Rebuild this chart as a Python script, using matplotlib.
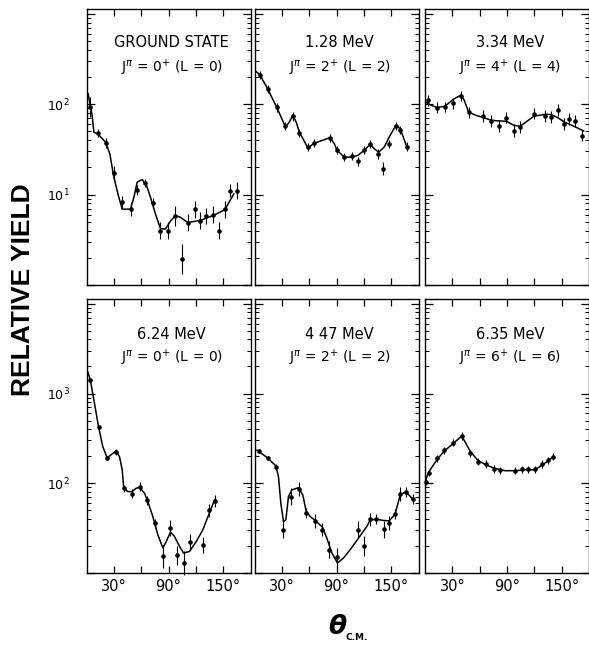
import numpy as np
import matplotlib
matplotlib.use('Agg')
import matplotlib.pyplot as plt
from matplotlib.ticker import LogLocator, NullFormatter, FixedLocator, FixedFormatter

# ---------------- data (angles in degrees, c.m.; relative yield) ----------------
# Ground state 0+ (L=0)
gs_theta = [3.3, 12.4, 20.9, 30.0, 39.2, 48.3, 54.9, 64.0, 72.8, 81.2, 89.2, 96.9,
            105.0, 111.2, 118.6, 125.1, 131.7, 138.6, 145.2, 151.8, 158.0, 164.7]
gs_yield = [93, 48, 37, 17.3, 8.2, 6.9, 11.2, 13.4, 8.0, 4.0, 4.0, 5.8,
            1.95, 4.9, 6.9, 5.15, 5.8, 6.0, 4.0, 6.9, 11.1, 11.0]
gs_err = [0.11, 0.044, 0.056, 0.074, 0.074, 0.08, 0.056, 0.044, 0.056, 0.093, 0.093, 0.11,
          0.167, 0.093, 0.093, 0.093, 0.093, 0.093, 0.093, 0.093, 0.074, 0.093]
gs_fit_theta = [1.8, 4.4, 6.2, 8.1, 12.4, 20.9, 25.6, 30.0, 35.5, 39.2, 48.3, 52.0, 55.6,
                61.1, 65.9, 70.3, 75.7, 81.2, 86.7, 92.2, 97.7, 103.2, 111.2, 125.1,
                139.7, 151.8, 161.7]
gs_fit_yield = [131, 93, 75.5, 49, 47, 38, 28.3, 15.6, 9.3, 6.9, 6.9, 9.3, 13.7,
                14.7, 12.6, 9.3, 6.1, 4.2, 4.16, 5.1, 5.9, 5.6, 4.9, 5.2,
                5.9, 6.8, 10.2]

# 1.28 MeV 2+ (L=2)
e128_theta = [6.2, 14.7, 24.5, 34.0, 42.1, 49.3, 58.5, 65.7, 82.9, 90.6, 98.6, 106.7,
              113.3, 120.5, 127.1, 135.2, 140.6, 147.2, 155.2, 159.9, 167.2]
e128_yield = [209, 146, 92, 57, 73.6, 48, 33.6, 37, 42.3, 30.9, 26, 26.5,
              23.4, 30.9, 36.6, 28.3, 19.3, 36.6, 57, 52, 34]
e128_err = [0.045, 0.045, 0.045, 0.045, 0.05, 0.045, 0.045, 0.045, 0.045, 0.045, 0.045, 0.045,
            0.05, 0.045, 0.045, 0.056, 0.074, 0.045, 0.045, 0.045, 0.045]
e128_fit_theta = [0, 6.2, 14.7, 24.5, 34, 38.3, 42, 45.7, 49.3, 58.5, 65.7, 82.9, 87.6,
                  90.6, 98.6, 106.7, 113.3, 120.5, 127.1, 131.4, 136.3, 142.4, 147.9,
                  155.2, 159.9, 167.2]
e128_fit_yield = [239, 210, 146, 92, 56, 63.5, 75.5, 63.5, 49, 33, 37, 42.7, 36.6,
                  30.8, 26, 26, 27.1, 30.8, 36, 32.2, 29.5, 33.6, 43.4,
                  58.4, 53.7, 33.6]

# 3.34 MeV 4+ (L=4)
e334_theta = [3.0, 13.1, 21.9, 30.9, 39.3, 47.8, 64.2, 72.9, 81.2, 89.3, 97.6, 104.2,
              119.5, 132.2, 138.5, 145.7, 153.0, 158.5, 165.0, 172.3]
e334_yield = [111, 91, 93, 102, 123, 81, 73.6, 65, 57.4, 71, 51, 56,
              78.7, 74, 72, 86, 60, 69, 65, 45]
e334_err = [0.06, 0.06, 0.06, 0.06, 0.06, 0.06, 0.065, 0.065, 0.07, 0.06, 0.07, 0.065,
            0.065, 0.065, 0.065, 0.065, 0.065, 0.065, 0.065, 0.06]
e334_fit_theta = [0, 6.6, 13.1, 21.9, 30.9, 39.3, 43, 47.8, 55.7, 64.2, 72.9, 81.2, 89.3,
                  97.6, 104.2, 108.5, 119.5, 132.2, 138.5, 145.7, 153, 165, 174.1]
e334_fit_yield = [106, 97.5, 92, 95, 113, 126, 111, 82, 75.5, 71, 66.4, 65.3, 64.7,
                  58.4, 57, 61, 73.6, 77.4, 76.8, 71, 63.5, 56, 50.6]

# 6.24 MeV 0+ (L=0)
e624_theta = [4.1, 13.2, 22.7, 32.6, 40.9, 49.7, 58.2, 66.6, 75.4, 83.8, 91.1, 99.1,
              106.5, 113.8, 128.4, 134.2, 140.5]
e624_yield = [1430, 419, 190, 224, 88, 76, 91.6, 65, 36, 15.3, 32, 15.7,
              12.9, 22, 20.6, 50, 63.5]
e624_err = [0.02, 0.02, 0.02, 0.03, 0.04, 0.05, 0.05, 0.05, 0.05, 0.13, 0.09, 0.11,
            0.13, 0.09, 0.09, 0.07, 0.07]
e624_fit_theta = [1.4, 4.1, 8.8, 13.2, 17.9, 22.7, 28.9, 32.6, 36.2, 39.2, 40.9, 45.3,
                  49.7, 54.6, 58.2, 63.7, 67.3, 72.8, 78.3, 83.8, 87.5, 92.2, 96.6,
                  102.1, 106.5, 113.1, 120.4, 127.7, 140.5]
e624_fit_yield = [1740, 1430, 774, 426, 255, 192, 215, 230, 198, 141, 88, 80.7,
                  80.7, 88, 90, 77.4, 62.5, 42.6, 26.7, 19, 22.4, 28.6, 25.5,
                  19.8, 16.7, 17.4, 22.4, 30.3, 65.2]

# 4.47 MeV 2+ (L=2)
e447_theta = [4.4, 14.3, 23.4, 31.8, 39.8, 48.3, 56.8, 65.9, 74.6, 82.0, 90.3, 113.1,
              120.7, 127.0, 133.6, 141.6, 147.9, 154.4, 159.9, 166.1, 173.8]
e447_yield = [229, 190, 153, 30.3, 71, 86.5, 47, 38, 30.3, 18.2, 14.9, 30.3,
              20, 39.8, 39.8, 30.8, 36, 45.6, 76, 80.7, 66]
e447_err = [0.02, 0.02, 0.03, 0.093, 0.093, 0.074, 0.056, 0.074, 0.074, 0.093, 0.11, 0.093,
            0.11, 0.074, 0.056, 0.093, 0.074, 0.056, 0.074, 0.056, 0.056]
e447_fit_theta = [2.6, 14.3, 23.4, 26.3, 28.9, 31.8, 34.4, 37.3, 41, 48.3, 53, 56.8,
                  61.1, 65.9, 74.6, 79.4, 84.9, 91.1, 97.7, 105, 114.2, 123.3, 127,
                  133.6, 141.6, 147.9, 154.4, 159.9, 166.1, 173.8]
e447_fit_yield = [234, 192, 156, 119, 60, 37.5, 39, 71, 84.3, 89.3, 74, 48.4,
                  42.6, 39, 32.4, 24.5, 16.7, 12.9, 14.7, 18.2, 24.5, 33, 39,
                  39.8, 38.5, 38.1, 45.6, 74, 80.7, 66.4]

# 6.35 MeV 6+ (L=6)
e635_theta = [0.7, 4.4, 13.5, 21.2, 31.1, 40.2, 49.4, 57.7, 67.0, 76.1, 82.3, 98.8,
              106.0, 112.6, 120.7, 128.8, 135.3, 140.8]
e635_yield = [104, 131, 190, 234, 283, 336, 215, 174, 164, 144, 140, 138,
              143, 143, 143, 164, 181, 198]
e635_err = [0.04] * 18
e635_fit_theta = [0, 4.4, 13.5, 21.2, 31.1, 40.2, 43.9, 49.4, 57.7, 67, 76.1, 87.8,
                  98.8, 109.8, 120.7, 128.8, 135.3, 140.8]
e635_fit_yield = [104, 135, 185, 229, 278, 336, 290, 229, 181, 160, 147, 138,
                  138, 141, 141, 160, 178, 198]

titles = ['GROUND STATE', '1.28 MeV', '3.34 MeV', '6.24 MeV', '4 47 MeV', '6.35 MeV']
spins = ['0', '2', '4', '0', '2', '6']
lvals = ['0', '2', '4', '0', '2', '6']

x_ticks = [30, 60, 90, 120, 150]
x_labels = ['30°', '', '90°', '', '150°']

panels = [
    (gs_theta, gs_yield, gs_err, gs_fit_theta, gs_fit_yield),
    (e128_theta, e128_yield, e128_err, e128_fit_theta, e128_fit_yield),
    (e334_theta, e334_yield, e334_err, e334_fit_theta, e334_fit_yield),
    (e624_theta, e624_yield, e624_err, e624_fit_theta, e624_fit_yield),
    (e447_theta, e447_yield, e447_err, e447_fit_theta, e447_fit_yield),
    (e635_theta, e635_yield, e635_err, e635_fit_theta, e635_fit_yield),
]

# ---------------- figure ----------------
W, H = 589, 645
fig = plt.figure(figsize=(W / 100, H / 100), dpi=100)
fig.patch.set_facecolor('white')

col_left = [86.5, 254.5, 425.0]
col_w = 164.0
row_top = [9.0, 299.0]
row_h = [276.0, 274.0]
row_ylim = [(1.0, 1130.0), (10.0, 11300.0)]
row_major = [[1, 10, 100, 1000], [10, 100, 1000, 10000]]
row_labels = [['', r'$10^{1}$', r'$10^{2}$', ''], ['', r'$10^{2}$', r'$10^{3}$', '']]

for i, (th, yv, er, fth, fy) in enumerate(panels):
    r, c = divmod(i, 3)
    ax = fig.add_axes([col_left[c] / W, 1 - (row_top[r] + row_h[r]) / H,
                       col_w / W, row_h[r] / H])
    ax.set_yscale('log')
    ax.set_xlim(0, 180)
    ax.set_ylim(*row_ylim[r])

    yv = np.array(yv, dtype=float)
    er = np.array(er, dtype=float)
    lo = yv - yv / 10 ** er
    hi = yv * 10 ** er - yv
    ax.plot(fth, fy, '-', color='black', lw=1.1, zorder=2)
    ax.errorbar(th, yv, yerr=[lo, hi], fmt='o', ms=2.3, color='black',
                ecolor='black', elinewidth=0.8, capsize=0, zorder=3, clip_on=False)

    ax.yaxis.set_major_locator(FixedLocator(row_major[r]))
    ax.yaxis.set_major_formatter(FixedFormatter(row_labels[r]))
    ax.yaxis.set_minor_locator(LogLocator(base=10, subs=np.arange(2, 10)))
    ax.yaxis.set_minor_formatter(NullFormatter())
    ax.set_ylim(*row_ylim[r])

    ax.set_xticks(x_ticks)
    ax.set_xticklabels(x_labels)

    ax.tick_params(axis='both', which='both', direction='in', top=True, right=True,
                   colors='black')
    ax.tick_params(axis='y', which='major', length=6, width=0.9, labelsize=9, pad=12)
    ax.tick_params(axis='y', which='minor', length=3, width=0.7)
    ax.tick_params(axis='x', which='major', length=5, width=0.9, labelsize=10.5, pad=4)

    if c != 0:
        ax.tick_params(axis='y', which='both', labelleft=False)
    if r == 0:
        ax.tick_params(axis='x', which='both', labelbottom=False)

    for s in ax.spines.values():
        s.set_linewidth(1.0)
        s.set_color('black')

    ty = 0.88 if r == 0 else 0.872
    jy = 0.786 if r == 0 else 0.785
    ax.text(0.52, ty, titles[i], transform=ax.transAxes, ha='center', va='center',
            fontsize=10.5)
    ax.text(0.52, jy, 'J$^{\\pi}$ = ' + spins[i] + '$^{+}$ (L = ' + lvals[i] + ')',
            transform=ax.transAxes, ha='center', va='center', fontsize=10)

# axis titles
fig.text(23 / W, 1 - 290 / H, 'RELATIVE YIELD', rotation=90, ha='center', va='center',
         fontsize=19, fontweight='bold', family='Liberation Sans')
fig.text(337 / W, 1 - 627 / H, 'θ', ha='center', va='center', fontsize=19,
         fontweight='bold', fontstyle='italic')
fig.text(357 / W, 1 - 638 / H, 'C.M.', ha='center', va='center', fontsize=6.5,
         fontweight='bold')

fig.savefig('out.png', dpi=100, facecolor='white')
